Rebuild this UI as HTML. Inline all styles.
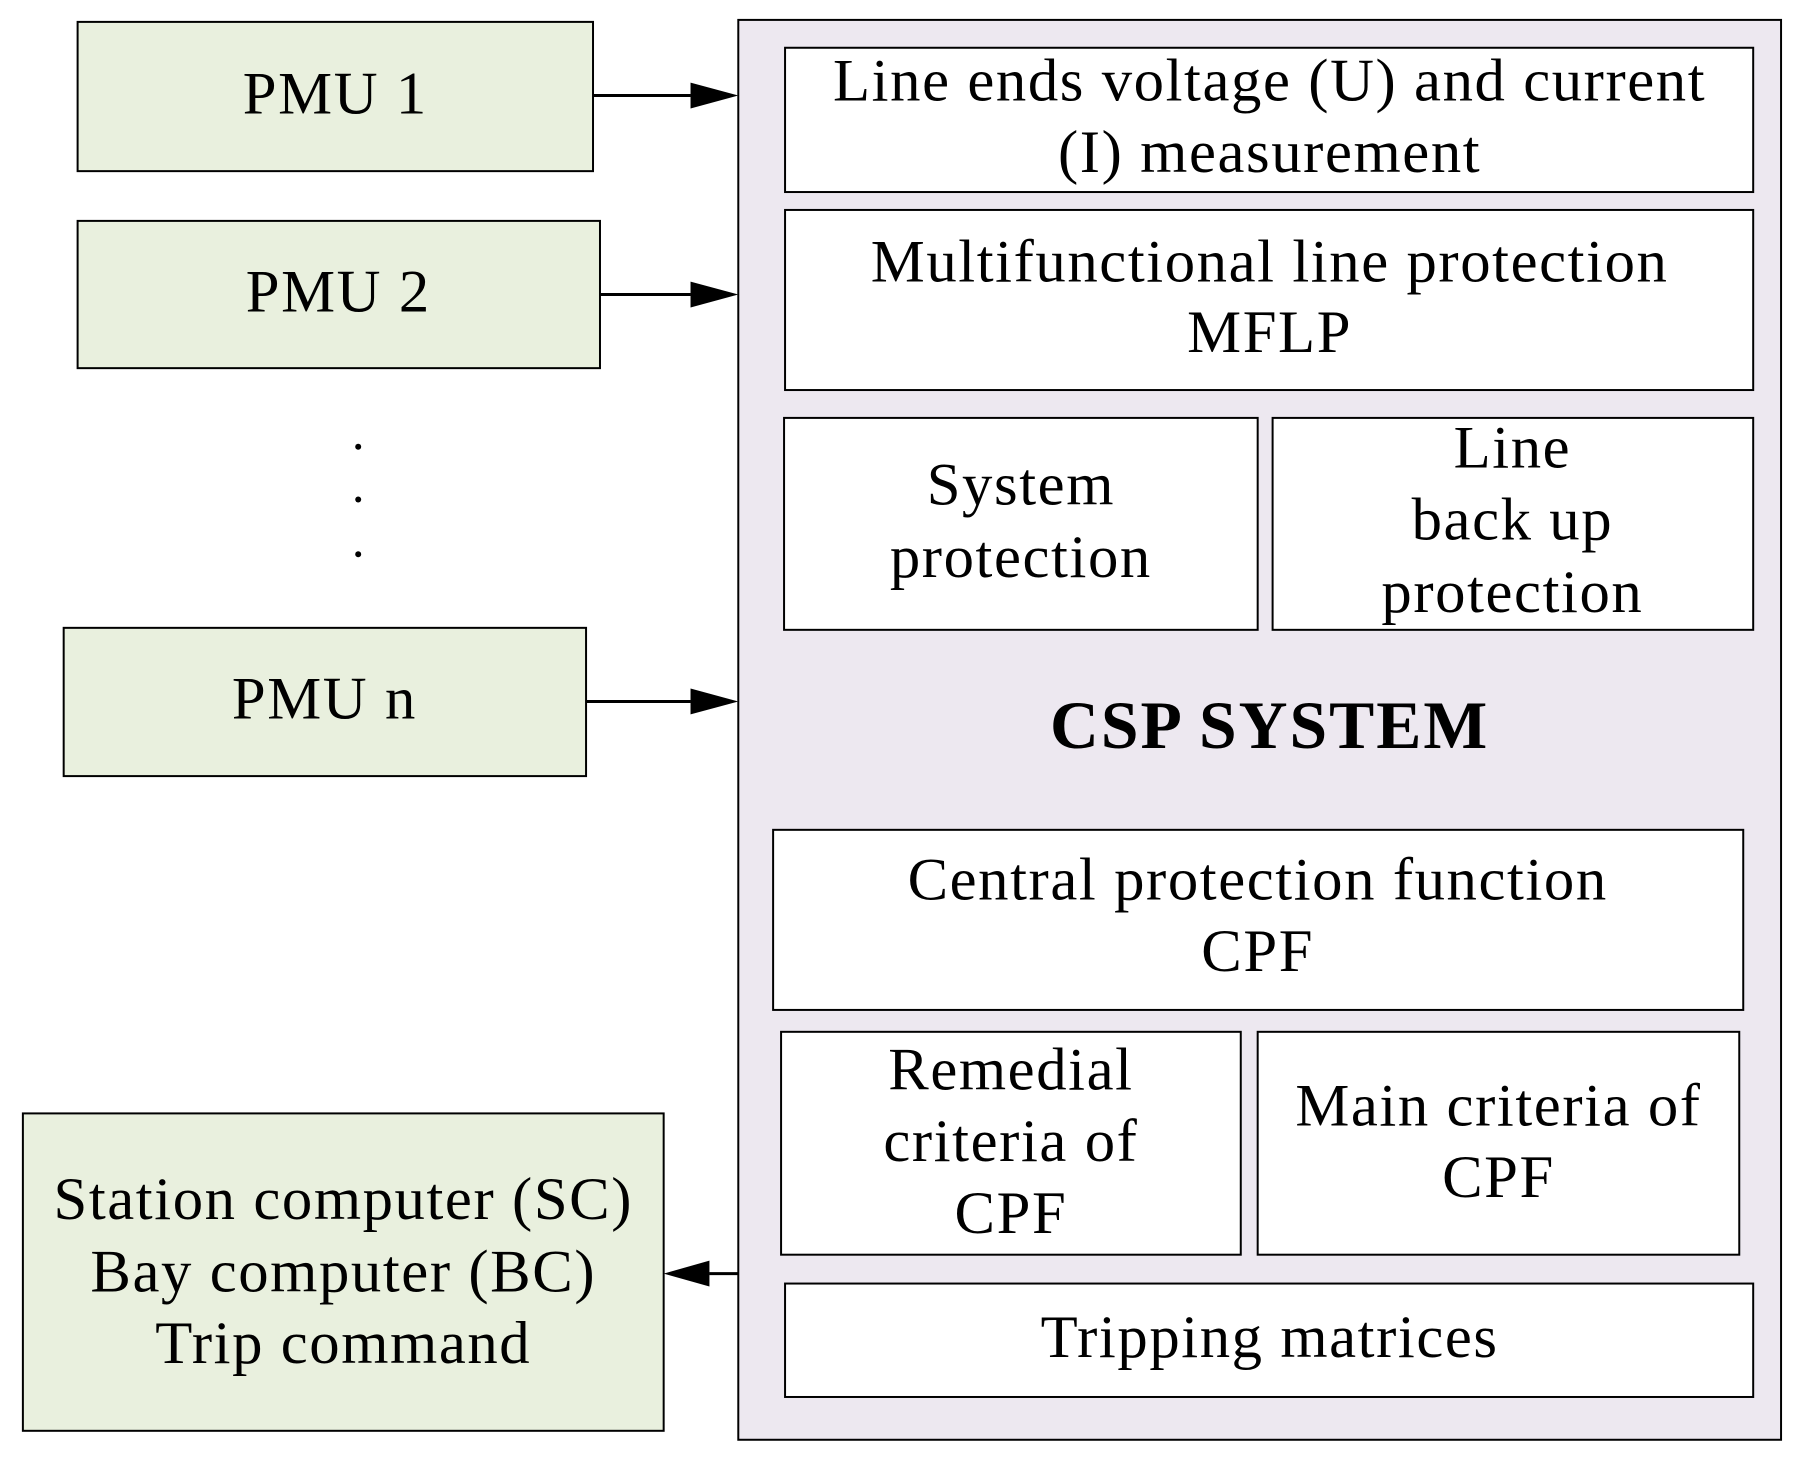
<!DOCTYPE html>
<html><head><style>body{margin:0;background:#fff}svg{display:block}text{font-family:"Liberation Serif",serif;font-size:61px;letter-spacing:1.6px;fill:#000;text-anchor:middle}</style></head>
<body>
<svg width="1810" height="1464" viewBox="0 0 1810 1464" xmlns="http://www.w3.org/2000/svg">
<g transform="scale(0.995)">
<g stroke="#000" stroke-width="2" fill="#e9f0de">
<rect x="78" y="22" width="518" height="150"/>
<rect x="78" y="222" width="525" height="148"/>
<rect x="64" y="631" width="525" height="149"/>
<rect x="23" y="1119" width="644" height="319"/>
<rect x="742" y="20" width="1048" height="1427" fill="#ede8f0"/>
<g fill="#fff">
<rect x="789" y="48" width="973" height="145"/>
<rect x="789" y="211" width="973" height="181"/>
<rect x="788" y="420" width="476" height="213"/>
<rect x="1279" y="420" width="483" height="213"/>
<rect x="777" y="834" width="975" height="181"/>
<rect x="785" y="1037" width="462" height="224"/>
<rect x="1264" y="1037" width="484" height="224"/>
<rect x="789" y="1290" width="973" height="114"/>
</g></g>
<g stroke="#000" stroke-width="3">
<line x1="596" y1="96" x2="694" y2="96"/><path d="M694,83 L742,96 L694,109z" stroke="none"/>
<line x1="603" y1="296" x2="694" y2="296"/><path d="M694,283 L742,296 L694,309z" stroke="none"/>
<line x1="589" y1="705" x2="694" y2="705"/><path d="M694,692 L742,705 L694,718z" stroke="none"/>
<line x1="742" y1="1280" x2="713" y2="1280"/><path d="M713,1267 L667,1280 L713,1293z" stroke="none"/>
</g>
<circle cx="360" cy="449" r="3"/><circle cx="360" cy="502" r="3"/><circle cx="360" cy="557" r="3"/>
<text x="337" y="114">PMU 1</text>
<text x="340" y="313">PMU 2</text>
<text x="326" y="722">PMU n</text>
<text x="345" y="1225">Station computer (SC)</text>
<text x="345" y="1298">Bay computer (BC)</text>
<text x="345" y="1370">Trip command</text>
<text x="1276" y="101">Line ends voltage (U) and current</text>
<text x="1276" y="173">(I) measurement</text>
<text x="1276" y="283">Multifunctional line protection</text>
<text x="1276" y="354">MFLP</text>
<text x="1026" y="507">System</text>
<text x="1026" y="580">protection</text>
<text x="1520" y="470">Line</text>
<text x="1520" y="542">back up</text>
<text x="1520" y="615">protection</text>
<text x="1276" y="752" style="font-weight:bold;font-size:68px;letter-spacing:2px">CSP SYSTEM</text>
<text x="1264" y="904">Central protection function</text>
<text x="1264" y="976">CPF</text>
<text x="1016" y="1095">Remedial</text>
<text x="1016" y="1167">criteria of</text>
<text x="1016" y="1239">CPF</text>
<text x="1506" y="1131">Main criteria of</text>
<text x="1506" y="1203">CPF</text>
<text x="1276" y="1364">Tripping matrices</text>
</g>
</svg>
</body></html>
